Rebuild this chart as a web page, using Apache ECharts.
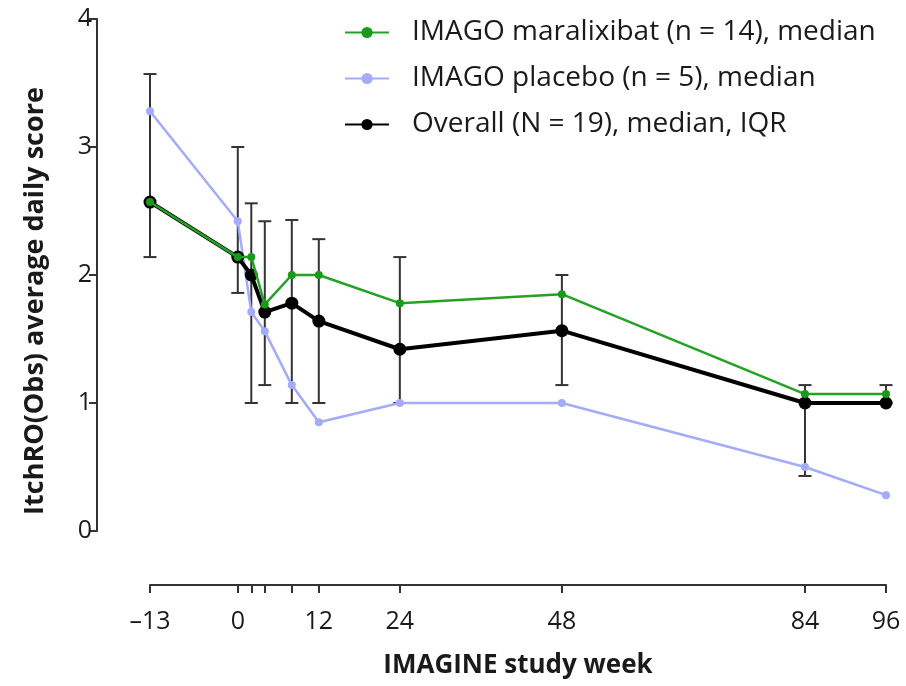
<!DOCTYPE html>
<html><head><meta charset="utf-8">
<script src="https://cdn.jsdelivr.net/npm/echarts@6/dist/echarts.min.js"></script>
<style>html,body{margin:0;padding:0;background:#fff}#c{width:906px;height:686px}</style>
</head><body><div id="c"></div>
<script>
const weeks = [-13, 0, 2, 4, 8, 12, 24, 48, 84, 96];
const maralixibat = [2.57, 2.14, 2.14, 1.77, 2.0, 2.0, 1.78, 1.85, 1.07, 1.07];
const placebo = [3.28, 2.42, 1.71, 1.56, 1.14, 0.85, 1.0, 1.0, 0.5, 0.28];
const overall = [2.57, 2.14, 2.0, 1.71, 1.78, 1.64, 1.42, 1.565, 1.0, 1.0];
const overallQ1 = [2.14, 1.86, 1.0, 1.14, 1.0, 1.0, 1.0, 1.14, 0.43, 1.0];
const overallQ3 = [3.57, 3.0, 2.56, 2.42, 2.43, 2.28, 2.14, 2.0, 1.14, 1.14];
const xLabelWeeks = [-13, 0, 12, 24, 48, 84, 96];
const xTickWeeks = [-13, 0, 2, 4, 8, 12, 24, 48, 84, 96];
const names = ['IMAGO maralixibat (n = 14), median', 'IMAGO placebo (n = 5), median', 'Overall (N = 19), median, IQR'];

const FONT = 'Open Sans';
const pair = (ys) => weeks.map((w, i) => [w, ys[i]]);
const chart = echarts.init(document.getElementById('c'), null, {renderer: 'canvas'});
chart.setOption({
  animation: false,
  backgroundColor: '#fff',
  textStyle: {fontFamily: FONT},
  grid: {left: 150, right: 20, top: 19, bottom: 155, containLabel: false},
  legend: {
    orient: 'vertical', left: 339, top: 12,
    data: names, itemWidth: 44, itemHeight: 14, itemGap: 15,
    textStyle: {fontFamily: FONT, fontSize: 28, color: '#1a1a1a', padding: [0, 0, 0, 18], lineHeight: 31}
  },
  xAxis: {
    type: 'value', min: -13, max: 96, offset: 54,
    splitLine: {show: false},
    axisLine: {show: true, onZero: false, lineStyle: {color: '#333', width: 2}},
    axisTick: {show: true, length: 8, inside: false, lineStyle: {color: '#333', width: 2}, customValues: xTickWeeks},
    axisLabel: {customValues: xLabelWeeks, fontSize: 25, color: '#1a1a1a', margin: 24, fontFamily: FONT,
      formatter: v => v < 0 ? '\u2013' + Math.abs(v) : String(v)},
    name: 'IMAGINE study week', nameLocation: 'middle', nameGap: 68,
    nameTextStyle: {fontSize: 26, fontWeight: 'bold', color: '#1a1a1a', fontFamily: FONT}
  },
  yAxis: {
    type: 'value', min: 0, max: 4, interval: 1, offset: 53,
    splitLine: {show: false},
    axisLine: {show: true, onZero: false, lineStyle: {color: '#333', width: 2}},
    axisTick: {show: true, length: 8, inside: false, lineStyle: {color: '#333', width: 2}},
    axisLabel: {fontSize: 25, color: '#1a1a1a', margin: 5, fontFamily: FONT},
    name: 'ItchRO(Obs) average daily score', nameLocation: 'middle', nameGap: 48,
    nameTextStyle: {fontSize: 27, fontWeight: 'bold', color: '#1a1a1a', fontFamily: FONT, padding: [0, 52, 0, 0]}
  },
  series: [
    {
      type: 'custom', name: 'IQR', z: 1,
      data: weeks.map((w, i) => [w, overallQ1[i], overallQ3[i]]),
      renderItem: function (params, api) {
        const x = api.value(0);
        const lo = api.coord([x, api.value(1)]);
        const hi = api.coord([x, api.value(2)]);
        const cw = 6.5;
        const st = {stroke: '#333', lineWidth: 2};
        return {type: 'group', children: [
          {type: 'line', shape: {x1: lo[0], y1: lo[1], x2: hi[0], y2: hi[1]}, style: st},
          {type: 'line', shape: {x1: lo[0] - cw, y1: lo[1], x2: lo[0] + cw, y2: lo[1]}, style: st},
          {type: 'line', shape: {x1: hi[0] - cw, y1: hi[1], x2: hi[0] + cw, y2: hi[1]}, style: st}
        ]};
      }
    },
    {
      type: 'line', name: names[1], z: 2, data: pair(placebo),
      symbol: 'circle', symbolSize: 8,
      lineStyle: {color: '#a3abfa', width: 2.5}, itemStyle: {color: '#a3abfa'}
    },
    {
      type: 'line', name: names[2], z: 3, data: pair(overall),
      symbol: 'circle', symbolSize: 13,
      lineStyle: {color: '#000', width: 4}, itemStyle: {color: '#000'}
    },
    {
      type: 'line', name: names[0], z: 4, data: pair(maralixibat),
      symbol: 'circle', symbolSize: 8,
      lineStyle: {color: '#22a322', width: 2.5}, itemStyle: {color: '#1a9a1a'}
    }
  ]
});
</script></body></html>
